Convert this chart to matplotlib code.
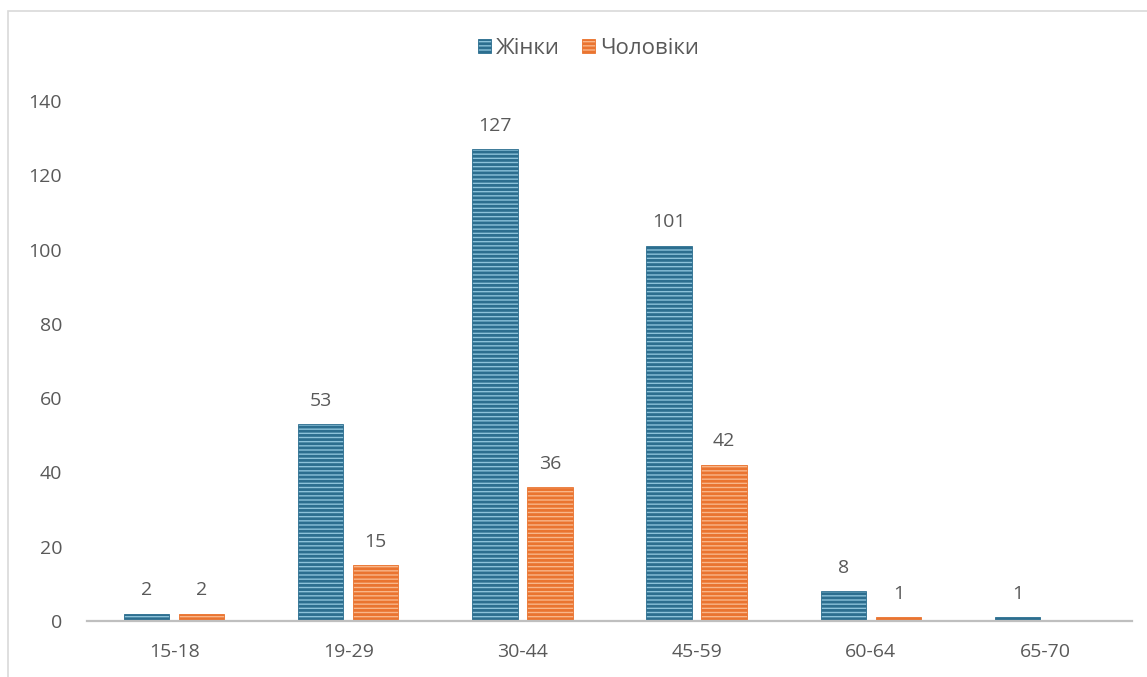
import matplotlib
matplotlib.use("Agg")
import matplotlib.pyplot as plt
from matplotlib.patches import Rectangle, Patch
import numpy as np

categories = ["15-18", "19-29", "30-44", "45-59", "60-64", "65-70"]
women = [2, 53, 127, 101, 8, 1]
men = [2, 15, 36, 42, 1, None]
series_names = ["Жінки", "Чоловіки"]
y_ticks = [0, 20, 40, 60, 80, 100, 120, 140]

plt.rcParams['font.family'] = ['Open Sans', 'DejaVu Sans']
plt.rcParams['hatch.linewidth'] = 2.0

W, H = 1147, 677
fig = plt.figure(figsize=(W / 100, H / 100), dpi=100)
fig.patch.set_facecolor("white")

# outer chart border (top and left visible)
fig.add_artist(Rectangle((8 / W, -0.05), 1.2, 1 - 11 / H + 0.05, transform=fig.transFigure,
                         fill=False, edgecolor="#d9d9d9", linewidth=1.2))

ax = fig.add_axes([87 / W, 1 - 621 / H, (1132 - 87) / W, (621 - 101) / H])

x = np.arange(len(categories))
bw = 0.26
off = 0.158
text_col = "#595959"

blue_face, blue_hatch = "#8cc2da", "#2c6e8f"
orange_face, orange_hatch = "#f9b689", "#ea7430"

for vals, dx, fc, hc in [(women, -off, blue_face, blue_hatch), (men, off, orange_face, orange_hatch)]:
    xs = [xi + dx for xi, v in zip(x, vals) if v is not None]
    vs = [v for v in vals if v is not None]
    ax.bar(xs, vs, width=bw, color=fc, edgecolor=hc, hatch="----", linewidth=0.6, zorder=2)
    for xi, v in zip(xs, vs):
        ax.annotate(str(v), (xi, v), xytext=(0, 17), textcoords="offset points",
                    ha="center", va="center", fontsize=14, color=text_col)

ax.set_xlim(-0.5, len(categories) - 0.5)
ax.set_ylim(0, 140)
ax.set_yticks(y_ticks)
ax.set_xticks(x)
ax.set_xticklabels(categories)
for s in ["top", "right", "left"]:
    ax.spines[s].set_visible(False)
ax.spines["bottom"].set_color("#bfbfbf")
ax.spines["bottom"].set_linewidth(1.6)
ax.spines["bottom"].set_zorder(3)
ax.tick_params(axis="both", length=0, labelsize=14, labelcolor=text_col)
ax.tick_params(axis="x", pad=16)
ax.tick_params(axis="y", pad=18)

handles = [Patch(facecolor=blue_face, edgecolor=blue_hatch, hatch="----", linewidth=0.6),
           Patch(facecolor=orange_face, edgecolor=orange_hatch, hatch="----", linewidth=0.6)]
fig.legend(handles, series_names, loc="center", bbox_to_anchor=(0.513, 1 - 48 / H), ncol=2,
           frameon=False, fontsize=16, labelcolor=text_col, handlelength=0.6, handleheight=0.6,
           handletextpad=0.2, columnspacing=1.0)

fig.savefig("out.png", dpi=100, facecolor="white")
